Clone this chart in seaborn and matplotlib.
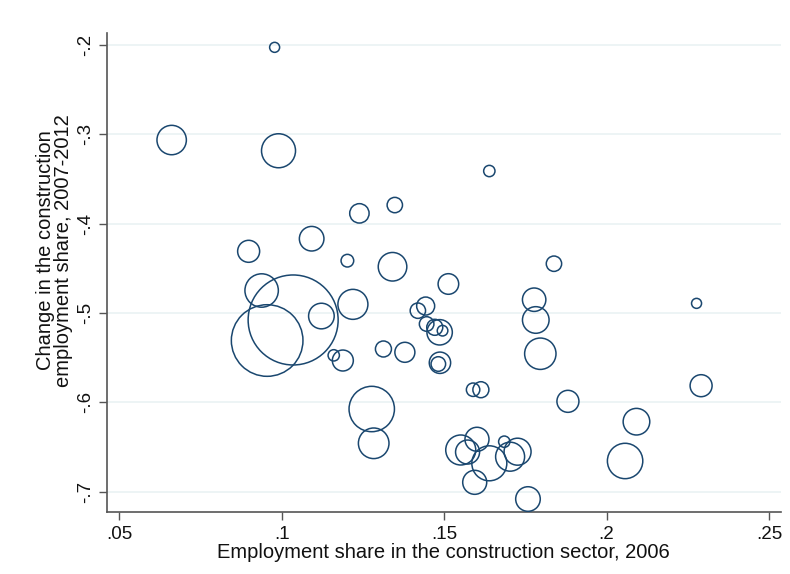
import matplotlib
matplotlib.use("Agg")
import matplotlib.pyplot as plt
import seaborn as sns
import pandas as pd

# Employment share in construction (2006), change in share (2007-2012), weight
share_2006 = [
    0.0978, 0.0661, 0.0990, 0.1639, 0.1348, 0.1239, 0.0898, 0.1092, 0.1202, 0.1341,
    0.1838, 0.0938, 0.1513, 0.1777, 0.2277, 0.1035, 0.0955, 0.1122, 0.1219, 0.1782,
    0.1419, 0.1443, 0.1446, 0.1471, 0.1486, 0.1495, 0.1160, 0.1188, 0.1313, 0.1379,
    0.1487, 0.1482, 0.1796, 0.1589, 0.1613, 0.1881, 0.2291, 0.1277, 0.2092, 0.1283,
    0.1551, 0.1572, 0.1601, 0.1639, 0.1685, 0.1703, 0.1726, 0.2057, 0.1594, 0.1758,
]
change_0712 = [
    -0.2026, -0.3064, -0.3184, -0.3411, -0.3792, -0.3885, -0.4310, -0.4169, -0.4415, -0.4483,
    -0.4449, -0.4749, -0.4676, -0.4852, -0.4893, -0.5079, -0.5309, -0.5035, -0.4904, -0.5079,
    -0.4975, -0.4923, -0.5124, -0.5161, -0.5217, -0.5199, -0.5475, -0.5533, -0.5404, -0.5441,
    -0.5558, -0.5572, -0.5457, -0.5860, -0.5860, -0.5990, -0.5815, -0.6076, -0.6218, -0.6460,
    -0.6535, -0.6558, -0.6415, -0.6684, -0.6442, -0.6610, -0.6554, -0.6658, -0.6897, -0.7084,
]
weight = [
    25, 216, 289, 32, 59, 94, 121, 151, 40, 204,
    59, 279, 106, 137, 25, 2025, 1282, 164, 225, 177,
    59, 81, 53, 64, 161, 28, 32, 110, 64, 100,
    114, 53, 246, 45, 64, 121, 121, 515, 177, 234,
    225, 144, 144, 306, 32, 210, 182, 313, 144, 151,
]

x_ticks = [0.05, 0.10, 0.15, 0.20, 0.25]
x_tick_labels = [".05", ".1", ".15", ".2", ".25"]
y_ticks = [-0.2, -0.3, -0.4, -0.5, -0.6, -0.7]
y_tick_labels = ["-.2", "-.3", "-.4", "-.5", "-.6", "-.7"]

df = pd.DataFrame({"share": share_2006, "change": change_0712, "weight": weight})

sns.set_style("white")
plt.rcParams["font.family"] = ["Liberation Sans", "DejaVu Sans"]

W, H = 790, 574
fig = plt.figure(figsize=(W / 100, H / 100), dpi=100)
ax = fig.add_axes([106.7 / W, 1 - 511.7 / H, (781 - 106.7) / W, (511.7 - 32.7) / H])

navy = "#1a476f"
# marker area proportional to weight; largest circle ~90 px across
max_area = (2 * 45 * 0.72) ** 2
sns.scatterplot(
    data=df, x="share", y="change", size="weight",
    sizes=(0, max_area), size_norm=(0, max(weight)),
    facecolors="none", edgecolor=navy, linewidth=1.1,
    legend=False, ax=ax, zorder=3,
)

ax.set_xlim(0.0461, 0.2537)
ax.set_ylim(-0.7226, -0.1862)

ax.set_xticks(x_ticks)
ax.set_xticklabels(x_tick_labels)
ax.set_yticks(y_ticks)
ax.set_yticklabels(y_tick_labels, rotation=90, va="center")

for yv in y_ticks:
    ax.axhline(yv, color="#eaf2f3", linewidth=1.2, zorder=1)

for side in ("top", "right"):
    ax.spines[side].set_visible(False)
for side in ("left", "bottom"):
    ax.spines[side].set_color("#555555")
    ax.spines[side].set_linewidth(1.2)

ax.tick_params(axis="both", direction="out", length=6, width=1.0,
               color="#555555", labelsize=13.5, labelcolor="#111111",
               left=True, bottom=True)
ax.tick_params(axis="x", pad=4)
ax.tick_params(axis="y", pad=3)

ax.set_xlabel("Employment share in the construction sector, 2006",
              fontsize=14.5, color="#111111", labelpad=0)
ax.set_ylabel("Change in the construction\nemployment share, 2007-2012",
              fontsize=14.5, color="#111111", linespacing=0.9)
ax.yaxis.set_label_coords(-0.050, 0.546)

fig.savefig("out.png", dpi=100, facecolor="white")
